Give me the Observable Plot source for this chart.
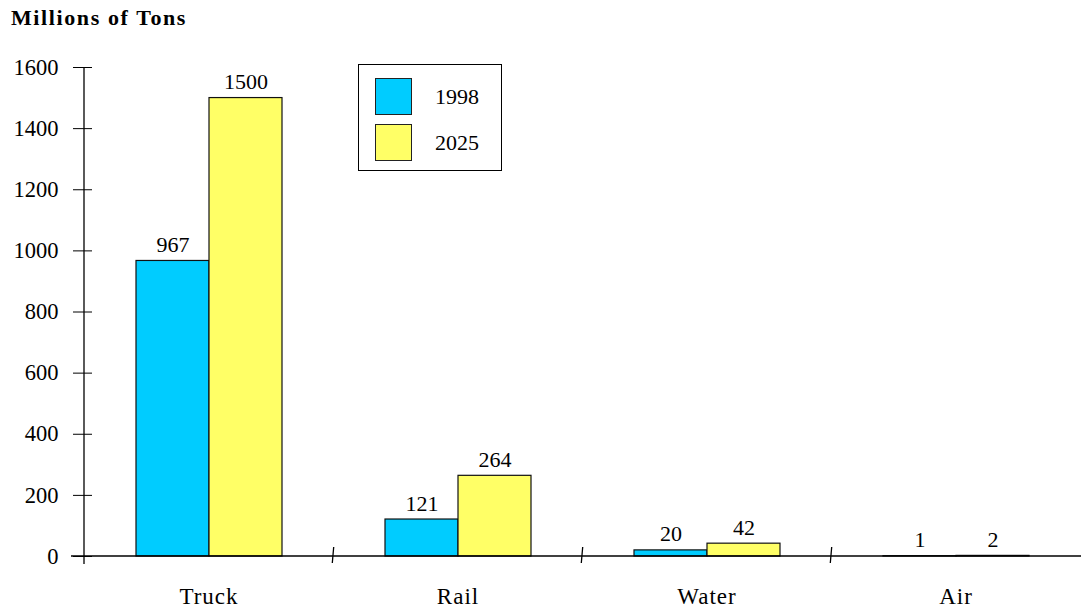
<!DOCTYPE html>
<html>
<head>
<meta charset="utf-8">
<script src="https://cdn.jsdelivr.net/npm/d3@7"></script>
<script src="https://cdn.jsdelivr.net/npm/@observablehq/plot@0.6"></script>
<style>
  html, body { margin: 0; padding: 0; background: #fff; }
  #wrap { position: relative; width: 1081px; height: 609px; font-family: "Liberation Serif", "Times New Roman", serif; color: #000; }
  #title { position: absolute; left: 11px; top: 7px; font-size: 22px; line-height: 22px; font-weight: bold; letter-spacing: 1.6px; white-space: nowrap; }
  #legend { position: absolute; left: 358px; top: 64px; width: 144px; height: 107px; box-sizing: border-box; border: 1px solid #000; background: #fff; }
  #legend .sw { position: absolute; left: 16px; width: 37px; height: 37px; box-sizing: border-box; border: 1px solid #222; }
  #legend .lb { position: absolute; left: 76px; font-size: 22px; line-height: 22px; }
  svg [aria-label="fx-axis tick label"] text { letter-spacing: 1px; }
</style>
</head>
<body>
<div id="wrap">
  <div id="chart"></div>
  <div id="title">Millions of Tons</div>
  <div id="legend"></div>
</div>
<script>
// Freight tonnage by mode, 1998 vs 2025 (millions of tons)
const modes = ["Truck", "Rail", "Water", "Air"];
const years = ["1998", "2025"];
const tons1998 = [967, 121, 20, 1];
const tons2025 = [1500, 264, 42, 2];
const yTicks = [0, 200, 400, 600, 800, 1000, 1200, 1400, 1600];
const yearColors = ["#00CCFF", "#FFFF66"];

const rows = modes.flatMap((mode, i) => [
  {mode, year: years[0], value: tons1998[i]},
  {mode, year: years[1], value: tons2025[i]}
]);

const chart = Plot.plot({
  width: 1081,
  height: 609,
  marginLeft: 83,
  marginRight: 0,
  marginTop: 67,
  marginBottom: 53,
  style: {fontFamily: "'Liberation Serif', 'Times New Roman', serif", fontSize: "22px", color: "#000", background: "#fff"},
  fx: {domain: modes, padding: 0, axis: null},
  x: {domain: years, paddingInner: 0, paddingOuter: 0.7, axis: null},
  y: {domain: [0, 1600], axis: null},
  color: {domain: years, range: yearColors},
  marks: [
    Plot.barY(rows, {fx: "mode", x: "year", y: "value", fill: "year", stroke: "#111", strokeWidth: 1.2}),
    Plot.text(rows, {fx: "mode", x: "year", y: "value", text: d => String(d.value), dy: -9, lineAnchor: "bottom", fontSize: 22, fill: "#000"}),
    // y ticks that cross the axis line
    Plot.axisY(yTicks, {tickSize: 19, dx: 8, tickFormat: () => "", label: null, stroke: "#000"}),
    Plot.axisY(yTicks, {tickSize: 0, tickPadding: 26, tickFormat: d => String(d), label: null, fontSize: 22.5, fill: "#000"}),
    Plot.axisFx({anchor: "bottom", tickSize: 0, tickPadding: 31, label: null, fontSize: 23, fill: "#000"})
  ]
});

document.getElementById("chart").appendChild(chart);

// Axis line, baseline and category separators, placed with the chart's scales
const fx = chart.scale("fx");
const y = chart.scale("y");
const svg = d3.select(chart);
const y0 = y.apply(0);
const xLeft = fx.apply(modes[0]);
const g = svg.append("g").attr("stroke", "#000").attr("stroke-width", 1.3).attr("fill", "none");
g.append("line").attr("x1", xLeft).attr("x2", xLeft).attr("y1", y.apply(1600)).attr("y2", y0 + 8);
g.append("line").attr("x1", xLeft - 13).attr("x2", 1081).attr("y1", y0).attr("y2", y0);
modes.slice(1).forEach(m => {
  const x = fx.apply(m);
  g.append("line").attr("x1", x + 0.7).attr("x2", x - 0.7).attr("y1", y0 - 9).attr("y2", y0 + 7);
});

// Legend
const legend = d3.select("#legend");
years.forEach((yr, i) => {
  legend.append("div").attr("class", "sw").style("top", (13 + i * 46) + "px").style("background", yearColors[i]);
  legend.append("div").attr("class", "lb").style("top", (21 + i * 46) + "px").text(yr);
});
</script>
</body>
</html>
